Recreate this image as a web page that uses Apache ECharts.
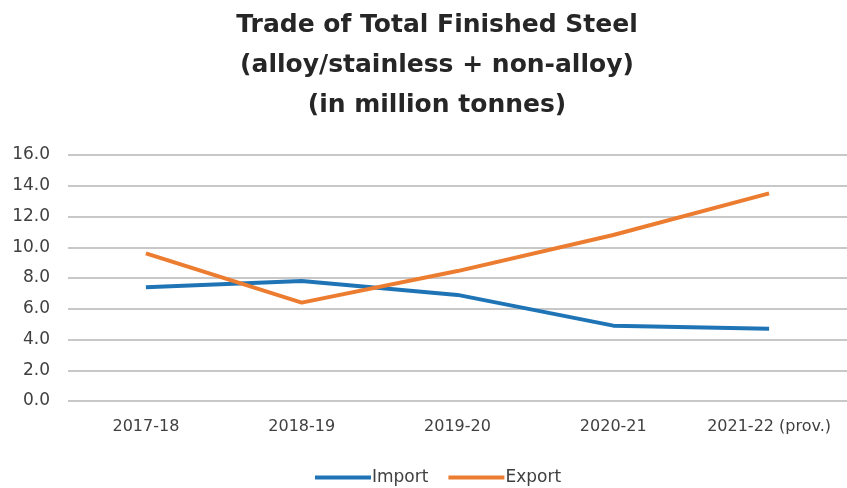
<!DOCTYPE html>
<html><head><meta charset="utf-8">
<script src="https://cdn.jsdelivr.net/npm/echarts@6/dist/echarts.min.js"></script>
<style>html,body{margin:0;padding:0;background:#fff}#c{width:847px;height:488px}</style>
</head><body><div id="c"></div>
<script>
const categories = ['2017-18','2018-19','2019-20','2020-21','2021-22 (prov.)'];
const importVals = [7.4, 7.8, 6.9, 4.9, 4.7];
const exportVals = [9.6, 6.4, 8.45, 10.8, 13.5];
const yTicks = {min:0, max:16, interval:2};

const chart = echarts.init(document.getElementById('c'));
chart.setOption({
  animation:false,
  title:{
    text:'Trade of Total Finished Steel\n(alloy/stainless + non-alloy)\n(in million tonnes)',
    left:432, textAlign:'center', top:0,
    textStyle:{fontFamily:'DejaVu Sans', fontWeight:'bold', fontSize:25, lineHeight:40, color:'#262626'}
  },
  legend:{
    bottom:-3, left:310, itemWidth:56, itemHeight:4, itemGap:20,
    icon:'rect',
    textStyle:{fontFamily:'DejaVu Sans', fontSize:17, color:'#404040', padding:[0,0,0,-4]},
    data:['Import','Export']
  },
  grid:{left:68, right:-6, top:155, bottom:87},
  xAxis:{
    type:'category', data:categories, boundaryGap:true,
    axisLine:{show:false}, axisTick:{show:false},
    axisLabel:{interval:0, fontFamily:'DejaVu Sans', fontSize:16, color:'#404040', margin:18}
  },
  yAxis:{
    type:'value', min:yTicks.min, max:yTicks.max, interval:yTicks.interval,
    axisLabel:{fontFamily:'DejaVu Sans', fontSize:17, color:'#404040', margin:18, formatter:v=>v.toFixed(1)},
    axisLine:{show:false}, axisTick:{show:false},
    splitLine:{lineStyle:{color:'#c8c8c8', width:2}}
  },
  series:[
    {name:'Import', type:'line', data:importVals, symbol:'none', lineStyle:{color:'#1f74b5', width:4}, itemStyle:{color:'#1f74b5'}},
    {name:'Export', type:'line', data:exportVals, symbol:'none', lineStyle:{color:'#ec7d30', width:4}, itemStyle:{color:'#ec7d30'}}
  ]
});
</script></body></html>
